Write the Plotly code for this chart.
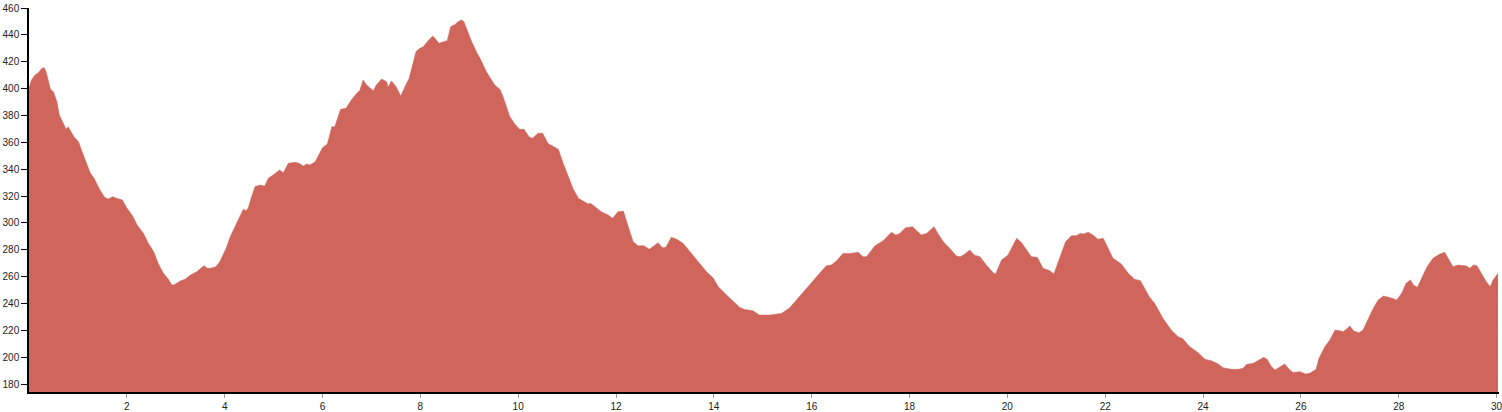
import plotly.graph_objects as go

distance_km = [
    0.00, 0.05, 0.12, 0.19, 0.26, 0.31, 0.35, 0.39, 0.44, 0.50, 0.57, 0.62, 0.69, 0.76, 0.80, 0.85,
    0.92, 1.01, 1.08, 1.15, 1.25, 1.33, 1.45, 1.55, 1.62, 1.71, 1.79, 1.91, 1.99, 2.12, 2.21, 2.34,
    2.44, 2.55, 2.64, 2.74, 2.85, 2.92, 2.98, 3.09, 3.19, 3.30, 3.43, 3.52, 3.58, 3.64, 3.71, 3.82,
    3.90, 4.03, 4.11, 4.21, 4.30, 4.38, 4.43, 4.48, 4.55, 4.62, 4.72, 4.82, 4.89, 4.99, 5.12, 5.20,
    5.30, 5.44, 5.52, 5.61, 5.68, 5.74, 5.85, 5.93, 6.00, 6.10, 6.19, 6.25, 6.37, 6.48, 6.60, 6.70,
    6.76, 6.83, 6.90, 7.04, 7.10, 7.21, 7.31, 7.34, 7.41, 7.51, 7.60, 7.68, 7.77, 7.85, 7.91, 7.99,
    8.06, 8.16, 8.25, 8.30, 8.38, 8.47, 8.55, 8.62, 8.71, 8.77, 8.84, 8.89, 8.98, 9.05, 9.16, 9.22,
    9.35, 9.52, 9.63, 9.69, 9.83, 9.93, 10.03, 10.12, 10.22, 10.29, 10.41, 10.50, 10.61, 10.70, 10.82, 10.92,
    11.02, 11.12, 11.23, 11.36, 11.43, 11.48, 11.57, 11.70, 11.84, 11.93, 12.04, 12.15, 12.25, 12.35, 12.45, 12.57,
    12.68, 12.76, 12.86, 12.95, 13.02, 13.13, 13.24, 13.37, 13.54, 13.71, 13.85, 13.99, 14.09, 14.26, 14.39, 14.53,
    14.63, 14.80, 14.93, 15.14, 15.38, 15.54, 15.69, 15.86, 16.03, 16.17, 16.30, 16.40, 16.51, 16.64, 16.78, 16.95,
    17.05, 17.12, 17.29, 17.46, 17.63, 17.72, 17.80, 17.92, 18.06, 18.14, 18.24, 18.35, 18.50, 18.58, 18.69, 18.82,
    18.96, 19.04, 19.13, 19.23, 19.33, 19.44, 19.57, 19.71, 19.76, 19.88, 20.01, 20.19, 20.29, 20.49, 20.61, 20.73,
    20.87, 20.95, 21.07, 21.19, 21.31, 21.41, 21.49, 21.56, 21.65, 21.75, 21.85, 21.96, 22.06, 22.16, 22.33, 22.47,
    22.60, 22.72, 22.90, 23.01, 23.18, 23.35, 23.49, 23.58, 23.73, 23.90, 24.04, 24.17, 24.31, 24.41, 24.58, 24.72,
    24.82, 24.89, 25.02, 25.16, 25.24, 25.31, 25.40, 25.47, 25.57, 25.67, 25.76, 25.84, 25.98, 26.10, 26.18, 26.31,
    26.37, 26.49, 26.59, 26.70, 26.80, 26.86, 26.93, 27.00, 27.08, 27.19, 27.27, 27.37, 27.48, 27.58, 27.69, 27.82,
    27.96, 28.06, 28.15, 28.24, 28.30, 28.38, 28.49, 28.58, 28.70, 28.84, 28.94, 29.01, 29.11, 29.21, 29.32, 29.39,
    29.45, 29.53, 29.60, 29.69, 29.79, 29.87, 29.93, 30.03,
]

elevation_m = [
    400.2, 406.4, 410.0, 411.8, 415.0, 415.6, 412.6, 406.0, 399.4, 397.7, 390.2, 380.3, 375.3, 369.7, 371.6, 368.6,
    364.2, 360.4, 354.3, 346.8, 337.4, 333.2, 324.5, 319.0, 317.8, 319.5, 318.3, 317.0, 311.6, 305.1, 298.4, 292.2,
    284.8, 278.5, 269.9, 262.9, 258.0, 253.7, 254.2, 256.7, 258.0, 261.2, 263.7, 266.2, 268.2, 266.2, 266.2, 267.4,
    271.1, 281.1, 289.3, 297.2, 304.6, 310.1, 309.1, 310.9, 319.5, 327.0, 328.2, 327.5, 333.2, 335.6, 339.4, 337.4,
    344.4, 345.1, 344.4, 342.4, 343.9, 343.1, 345.6, 351.3, 356.0, 358.7, 371.6, 371.6, 384.6, 385.3, 392.0, 396.5,
    398.4, 406.4, 402.7, 398.4, 402.7, 407.1, 405.1, 401.0, 405.7, 401.0, 394.5, 401.0, 407.6, 418.8, 427.5, 430.0,
    431.2, 435.7, 439.2, 437.4, 433.7, 434.9, 435.7, 446.1, 447.8, 449.8, 451.1, 449.8, 441.2, 434.9, 426.3, 422.5,
    412.6, 402.7, 399.4, 394.0, 379.1, 373.6, 369.7, 369.7, 364.2, 363.0, 366.7, 366.7, 359.2, 357.5, 354.8, 344.4,
    334.4, 325.7, 318.3, 315.8, 314.0, 314.6, 312.0, 308.3, 305.9, 303.4, 308.3, 308.8, 297.2, 286.0, 283.0, 283.0,
    280.3, 282.3, 285.3, 281.5, 281.8, 289.3, 287.8, 284.8, 277.3, 269.4, 263.7, 258.7, 252.5, 246.3, 242.1, 237.1,
    235.6, 234.6, 231.4, 231.4, 232.6, 236.4, 242.6, 250.0, 256.7, 262.9, 268.1, 268.6, 271.8, 277.3, 277.3, 278.1,
    274.8, 274.8, 282.8, 286.7, 293.0, 291.0, 292.2, 296.4, 297.2, 294.7, 291.0, 292.2, 297.2, 292.2, 286.0, 281.1,
    275.3, 274.8, 276.8, 279.8, 276.0, 274.8, 268.6, 262.9, 261.9, 272.4, 276.0, 288.5, 285.3, 274.8, 274.4, 266.2,
    264.4, 261.9, 273.6, 286.0, 290.5, 290.5, 292.2, 291.7, 293.0, 291.0, 287.8, 288.5, 281.1, 273.6, 269.4, 262.5,
    258.0, 257.0, 245.1, 240.1, 229.0, 220.2, 215.3, 214.0, 207.8, 203.4, 198.4, 197.4, 194.9, 192.2, 191.0, 191.0,
    191.7, 194.7, 195.4, 197.9, 199.9, 198.4, 192.9, 190.5, 192.9, 194.9, 191.0, 188.7, 189.2, 187.5, 188.0, 191.0,
    199.2, 207.8, 212.8, 220.2, 219.7, 219.0, 220.8, 223.3, 219.5, 218.3, 220.2, 227.7, 236.4, 242.6, 245.6, 244.4,
    242.6, 247.6, 255.0, 257.5, 253.8, 252.1, 260.0, 267.4, 273.6, 276.8, 278.1, 273.6, 267.4, 268.6, 268.1, 267.9,
    266.2, 268.6, 268.1, 262.5, 256.2, 252.5, 257.5, 262.5,
]

x_ticks = [2, 4, 6, 8, 10, 12, 14, 16, 18, 20, 22, 24, 26, 28, 30]
y_ticks = [180, 200, 220, 240, 260, 280, 300, 320, 340, 360, 380, 400, 420, 440, 460]

fill_color = "rgb(207,101,91)"

fig = go.Figure()
fig.add_trace(go.Scatter(
    x=distance_km,
    y=elevation_m,
    mode="lines",
    fill="tozeroy",
    fillcolor=fill_color,
    line=dict(color=fill_color, width=0.5),
    hoverinfo="x+y",
    showlegend=False,
))

axis_font = dict(family="Liberation Sans, Arial, sans-serif", size=10, color="#222")

fig.update_layout(
    width=1502,
    height=412,
    margin=dict(l=29, r=3, t=8, b=20, autoexpand=False),
    paper_bgcolor="white",
    plot_bgcolor="white",
    showlegend=False,
    xaxis=dict(
        range=[0, 30.05],
        tickvals=x_ticks,
        ticktext=[str(v) for v in x_ticks],
        ticks="outside",
        ticklen=4,
        tickcolor="#999",
        tickwidth=1,
        showline=True,
        linecolor="black",
        linewidth=1.5,
        showgrid=False,
        zeroline=False,
        tickfont=axis_font,
        automargin=False,
        ticklabeloverflow="allow",
        fixedrange=True,
    ),
    yaxis=dict(
        range=[174.1, 460],
        tickvals=y_ticks,
        ticktext=[str(v) for v in y_ticks],
        ticks="outside",
        ticklen=6,
        tickcolor="black",
        tickwidth=1,
        showline=True,
        linecolor="black",
        linewidth=1.5,
        showgrid=False,
        zeroline=False,
        tickfont=axis_font,
        automargin=False,
        ticklabeloverflow="allow",
        fixedrange=True,
    ),
)

fig.write_html(
    "out.html",
    config={"displayModeBar": False},
    post_script="document.body.style.margin='0';document.body.style.overflow='hidden';",
)
